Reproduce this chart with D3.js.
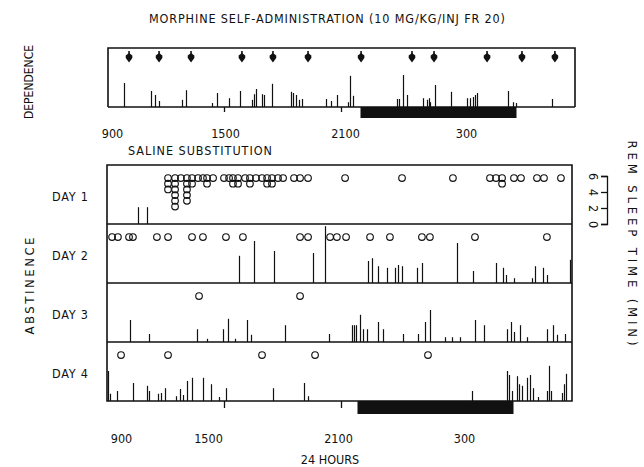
<!DOCTYPE html>
<html><head><meta charset="utf-8">
<script src="https://cdn.jsdelivr.net/npm/d3@7/dist/d3.min.js"></script>
<style>
html,body{margin:0;padding:0;background:#fff;}
svg text{font-family:"DejaVu Sans Condensed","Liberation Sans Narrow","DejaVu Sans",sans-serif;fill:#111;}
</style></head>
<body>
<svg id="c" width="644" height="467"></svg>
<script>
// ---------- DATA (time in decimal clock hours, 9 = 0900, 33 = 0900 next day) ----------
const tickHours = [9, 15, 21, 27];
const tickLabels = ["900", "1500", "2100", "300"];
const remTicks = [0, 2, 4, 6];
const darkPeriod = [22, 30];
const dayLabels = ["DAY 1", "DAY 2", "DAY 3", "DAY 4"];

// morphine injections (dependence)
const injections = [10.13, 11.67, 13.31, 15.92, 17.51, 19.31, 22.03, 24.64, 25.77, 28.49, 30.28, 31.97];

// REM episodes, dependence: [hour, minutes]
const depREM = [[9.87,3.0],[11.26,2.0],[11.46,1.5],[11.67,0.75],[12.85,0.9],[13.05,2.1],[14.38,0.5],[14.64,1.75],
 [15.26,1.1],[15.82,2.0],[16.44,0.9],[16.54,1.6],[16.64,2.25],[16.95,1.6],[17.05,1.5],[17.46,2.9],[18.44,1.9],
 [18.54,1.75],[18.69,1.5],[18.85,0.9],[19.0,1.0],[20.23,1.0],[20.49,0.75],[20.79,1.5],[21.36,0.6],[21.46,3.9],
 [21.62,1.4],[23.87,1.0],[23.97,1.0],[24.18,4.0],[24.38,1.5],[25.21,1.1],[25.41,0.9],[25.51,1.1],[25.56,0.6],
 [25.82,2.75],[26.64,1.9],[27.46,1.1],[27.62,1.1],[27.77,1.25],[27.87,1.5],[27.97,1.75],[29.56,2.0],[29.82,0.6],
 [29.97,0.5],[31.82,1.0]];

// saline self-administration (circles): [hour, number of injections]
const day1Inj = [[12.13,3],[12.49,6],[12.79,1],[13.10,5],[13.36,2],[13.67,1],[13.92,1],[14.13,2],[14.44,1],
 [15.0,1],[15.26,1],[15.46,2],[15.72,2],[16.08,1],[16.33,2],[16.64,1],[16.95,1],[17.21,2],[17.46,2],[17.77,1],
 [18.03,1],[18.59,1],[18.90,1],[19.31,1],[21.21,1],[24.13,1],[26.74,1],[28.64,1],[28.95,1],[29.26,2],[29.87,1],
 [30.23,1],[31.05,1],[31.41,1],[32.28,1]];
const day2Inj = [[9.26,1],[9.56,1],[10.13,1],[10.33,1],[11.56,1],[12.13,1],[13.36,1],[13.92,1],[15.10,1],[15.97,1],
 [18.90,1],[19.31,1],[20.44,1],[20.79,1],[21.26,1],[22.49,1],[23.51,1],[25.15,1],[25.56,1],[27.87,1],[31.56,1]];
const day3Inj = [[13.72,1],[18.90,1]];
const day4Inj = [[9.72,1],[12.13,1],[16.95,1],[19.67,1],[25.46,1]];

// REM episodes during abstinence: [hour, minutes]
const day1REM = [[10.59,2.1],[11.05,2.1]];
const day2REM = [[15.77,3.4],[16.54,5.25],[17.56,4.0],[19.56,3.75],[20.18,7.1],[22.38,2.75],[22.59,3.1],[22.9,2.1],
 [23.36,1.9],[23.77,1.9],[23.92,2.25],[24.13,2.1],[24.90,1.9],[25.15,2.5],[26.95,5.0],[27.77,1.5],[28.95,2.5],
 [29.31,1.9],[29.46,1.0],[29.87,0.6],[30.79,0.6],[30.95,2.1],[31.36,1.9],[31.56,1.0],[32.74,2.9]];
const day3REM = [[10.18,2.75],[11.15,1.0],[13.62,1.6],[14.13,0.4],[14.95,1.6],[15.21,2.9],[15.56,0.4],[16.18,2.75],
 [16.38,0.9],[18.13,2.1],[20.38,1.0],[21.56,2.1],[21.67,2.1],[21.77,2.1],[21.97,3.4],[22.13,1.6],[22.33,1.6],
 [22.9,2.5],[23.15,1.6],[24.18,1.0],[24.95,1.0],[25.31,2.5],[25.56,4.0],[26.33,0.6],[26.69,0.6],[27.10,0.6],
 [27.87,2.75],[28.33,2.1],[29.51,1.6],[29.72,2.5],[29.87,1.25],[30.18,2.1],[30.54,0.6],[31.56,1.6],[31.87,2.1],
 [32.08,0.9],[32.49,1.0]];
const day4REM = [[9.05,3.75],[9.15,0.9],[9.51,1.25],[10.33,2.25],[11.05,1.9],[11.15,1.25],[11.62,0.9],[11.77,1.0],
 [11.97,1.6],[12.54,0.6],[12.74,1.5],[12.90,0.75],[13.10,2.5],[13.36,2.9],[13.92,2.9],[14.33,2.1],[14.74,0.5],
 [15.10,1.6],[17.51,1.6],[19.10,2.25],[19.31,0.6],[27.72,1.25],[29.51,3.75],[29.62,3.25],[29.77,1.25],[30.03,3.1],
 [30.13,2.1],[30.28,1.9],[30.54,2.9],[30.69,3.25],[30.85,1.6],[31.10,0.5],[31.56,1.25],[31.67,4.4],[31.77,1.25],
 [32.33,1.0],[32.44,2.1],[32.54,3.4]];

const days = [
  {label: dayLabels[0], inj: day1Inj, rem: day1REM},
  {label: dayLabels[1], inj: day2Inj, rem: day2REM},
  {label: dayLabels[2], inj: day3Inj, rem: day3REM},
  {label: dayLabels[3], inj: day4Inj, rem: day4REM}
];

// ---------- LAYOUT ----------
const svg = d3.select("#c");
const ink = "#111";
const x = d3.scaleLinear().domain([9, 33]).range([107, 575]);
const pxPerMin = 8;
const topBox = {top: 48, base: 107, left: 108, right: 575};
const rowTop0 = 165, rowH = 59, blockRight = 572;
const fs = "12.5px";

function label(t, tx, ty, rot, len, size) {
  const el = svg.append("text").attr("transform", `translate(${tx},${ty})` + (rot ? ` rotate(${rot})` : ""))
    .attr("text-anchor", "middle").attr("dy", "0.35em").style("font-size", size || fs).text(t);
  if (len) el.attr("textLength", len).attr("lengthAdjust", "spacing");
  return el;
}

// title and side labels
label("MORPHINE SELF-ADMINISTRATION (10 MG/KG/INJ FR 20)", 327, 19, 0, 356, "12.5px");
label("DEPENDENCE", 29, 82, -90, 74, "12px");
label("ABSTINENCE", 29, 286, -90, 97, "13px");
label("REM SLEEP TIME (MIN)", 633, 243, 90, 205, "13px");

// ---------- DEPENDENCE PANEL ----------
const g1 = svg.append("g");
const yTop = d3.scaleLinear().domain([0, 6]).range([topBox.base, topBox.base - 6 * pxPerMin]);
g1.append("path").attr("fill", "none").attr("stroke", ink).attr("stroke-width", 1.6)
  .attr("d", `M${topBox.left},${topBox.base}V${topBox.top}H${topBox.right}V${topBox.base}`);
g1.append("rect").attr("x", x(darkPeriod[0])).attr("y", topBox.base)
  .attr("width", x(darkPeriod[1]) - x(darkPeriod[0])).attr("height", 11).attr("fill", ink);
g1.selectAll("line.rem").data(depREM).join("line").attr("class", "rem")
  .attr("x1", d => Math.round(x(d[0])) + 0.5).attr("x2", d => Math.round(x(d[0])) + 0.5)
  .attr("y1", topBox.base).attr("y2", d => yTop(d[1]))
  .attr("stroke", ink).attr("stroke-width", 1.2);
g1.append("line").attr("x1", topBox.left).attr("x2", topBox.right).attr("y1", topBox.base).attr("y2", topBox.base)
  .attr("stroke", ink).attr("stroke-width", 1.6);
// axis ticks + labels
const topDx = [5, 1, 4, 8];
const axTop = d3.axisBottom(x).tickValues(tickHours).tickFormat((d, i) => tickLabels[i]).tickSize(5).tickPadding(17);
const gaT = g1.append("g").attr("transform", `translate(0,${topBox.base})`).call(axTop);
gaT.select(".domain").remove();
gaT.selectAll(".tick line").attr("stroke", ink).attr("stroke-width", 1.3).filter(d => d === 9).remove();
gaT.selectAll(".tick text").style("font-size", fs).style("font-family", null).attr("fill", ink)
  .attr("dx", (d, i) => topDx[i]);
// injection arrows
const arrow = g1.selectAll("g.arr").data(injections).join("g").attr("class", "arr")
  .attr("transform", d => `translate(${x(d)},57)`);
arrow.append("line").attr("y1", -6).attr("y2", -1).attr("stroke", ink).attr("stroke-width", 1.6);
arrow.append("path").attr("d", "M-3.3,-1.5L0,-4L3.3,-1.5L3.3,1L0,5.5L-3.3,1Z").attr("fill", ink);

svg.append("text").attr("x", 128).attr("y", 155).attr("textLength", 144).attr("lengthAdjust", "spacing")
  .style("font-size", "12.5px").text("SALINE SUBSTITUTION");

// ---------- ABSTINENCE PANELS ----------
const gB = svg.append("g");
days.forEach((day, i) => {
  const top = rowTop0 + i * rowH, base = top + rowH;
  const yR = d3.scaleLinear().domain([0, 6]).range([base, base - 6 * pxPerMin]);
  const g = gB.append("g");
  g.selectAll("line.rem").data(day.rem).join("line").attr("class", "rem")
    .attr("x1", d => Math.round(x(d[0])) + 0.5).attr("x2", d => Math.round(x(d[0])) + 0.5)
    .attr("y1", base).attr("y2", d => Math.max(top + 1, yR(d[1])))
    .attr("stroke", ink).attr("stroke-width", 1.2);
  const dots = [];
  day.inj.forEach(d => { for (let k = 0; k < d[1]; k++) dots.push({h: d[0], k}); });
  g.selectAll("circle").data(dots).join("circle")
    .attr("cx", d => x(d.h)).attr("cy", d => top + 13 + d.k * 5.7).attr("r", 3.3)
    .attr("fill", "none").attr("stroke", ink).attr("stroke-width", 1.15);
  g.append("text").attr("x", 52).attr("y", top + 36).attr("textLength", 36).attr("lengthAdjust", "spacing")
    .style("font-size", fs).text(day.label);
  if (i === 0) {
    const ax = d3.axisLeft(yR).tickValues(remTicks).tickFormat(d3.format("d")).tickSize(6).tickPadding(4);
    const ga = g.append("g").attr("transform", "translate(607,0)").call(ax);
    ga.select(".domain").attr("stroke", ink).attr("stroke-width", 1.3);
    ga.selectAll(".tick line").attr("stroke", ink).attr("stroke-width", 1.3);
    ga.selectAll(".tick text").style("font-size", fs).style("font-family", null).attr("fill", ink)
      .attr("text-anchor", "middle")
      .attr("transform", "translate(-14,0) rotate(90)")
      .attr("x", 0).attr("y", 0).attr("dy", "0.35em");
  }
});
// frame of abstinence block
const blkBottom = rowTop0 + 4 * rowH;
gB.append("path").attr("fill", "none").attr("stroke", ink).attr("stroke-width", 1.6)
  .attr("d", `M107,${rowTop0}H${blockRight}V${blkBottom}H107Z`);
[1, 2, 3].forEach(i => gB.append("line").attr("x1", 107).attr("x2", blockRight)
  .attr("y1", rowTop0 + i * rowH).attr("y2", rowTop0 + i * rowH).attr("stroke", ink).attr("stroke-width", 1.5));
gB.append("rect").attr("x", x(darkPeriod[0]) - 3).attr("y", blkBottom)
  .attr("width", x(darkPeriod[1]) - x(darkPeriod[0])).attr("height", 13).attr("fill", ink);
const botDx = [14, -16, -3, 6];
const axB = d3.axisBottom(x).tickValues(tickHours).tickFormat((d, i) => tickLabels[i]).tickSize(7).tickPadding(26);
const gaB = gB.append("g").attr("transform", `translate(0,${blkBottom})`).call(axB);
gaB.select(".domain").remove();
gaB.selectAll(".tick line").attr("stroke", ink).attr("stroke-width", 1.3).filter(d => d === 9).remove();
gaB.selectAll(".tick text").style("font-size", fs).style("font-family", null).attr("fill", ink)
  .attr("dx", (d, i) => botDx[i]);
svg.append("text").attr("x", 330).attr("y", 464).attr("text-anchor", "middle").style("font-size", fs).text("24 HOURS");
</script>
</body></html>
